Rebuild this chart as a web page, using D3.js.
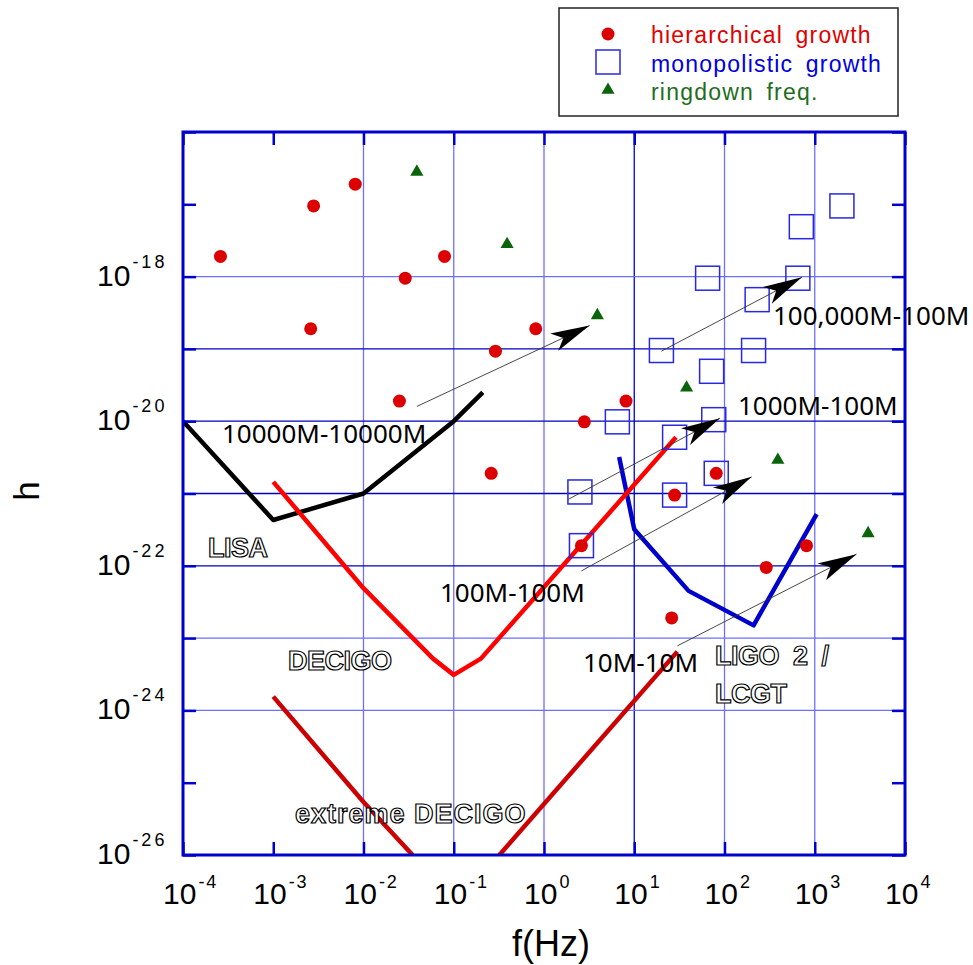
<!DOCTYPE html>
<html>
<head>
<meta charset="utf-8">
<script src="https://cdn.jsdelivr.net/npm/d3@7"></script>
<style>
body { margin: 0; background: #fff; }
text { font-family: "Liberation Sans", Arial, sans-serif; }
</style>
</head>
<body>
<script>
var width = 973, height = 965;
var mleft = 183, mright = 905, mtop = 132, mbottom = 855;

/* 数据 : [f(Hz), h] */
var hierarchical = [
  [2.6e-4, 1.9e-18], [2.8e-3, 9.5e-18], [8.1e-3, 1.9e-17], [7.9e-2, 1.9e-18],
  [2.9e-2, 9.5e-19], [2.6e-3, 1.9e-19], [0.29, 9.3e-20], [2.5e-2, 1.9e-20],
  [0.81, 1.9e-19], [8.1, 1.9e-20], [2.8, 9.8e-21], [0.26, 1.9e-21],
  [2.6, 1.9e-22], [28, 9.5e-22], [81, 1.9e-21], [26, 1.9e-23],
  [290, 9.5e-23], [810, 1.9e-22]
];
var monopolistic = [
  [2000, 9.5e-18], [710, 4.9e-18], [650, 9.5e-19], [65, 9.5e-19],
  [230, 4.8e-19], [20, 9.5e-20], [210, 9.5e-20], [72, 4.9e-20],
  [6.5, 9.8e-21], [76, 1.05e-20], [28, 6.0e-21], [2.5, 1.05e-21],
  [2.6, 1.9e-22], [28, 9.5e-22], [81, 1.9e-21]
];
var ringdown = [
  [0.039, 2.8e-17], [0.39, 2.8e-18], [3.9, 2.9e-19],
  [38, 2.9e-20], [390, 2.9e-21], [3900, 2.8e-22]
];

var lisa = [[1e-4, 1e-20], [1e-3, 4.3e-22], [1e-2, 1e-21], [0.1, 1e-20], [0.21, 2.5e-20]];
var decigo = [[1e-3, 1.45e-21], [1e-2, 4.9e-23], [0.059, 5.2e-24], [0.1, 3.1e-24], [0.2, 5.2e-24], [29, 6.0e-21]];
var extremeLeft = [[1e-3, 1.55e-24], [1e-2, 5.4e-26], [0.035, 1e-26]];
var extremeRight = [[0.32, 1e-26], [30, 6.5e-24]];
var ligo = [[6.8, 3.2e-21], [10, 3.2e-22], [40, 4.5e-23], [210, 1.5e-23], [1050, 5.2e-22]];

var arrows = [
  [[0.039, 1.6e-20], [3.2, 2.1e-19]],
  [[20, 9.3e-20], [720, 9.8e-19]],
  [[1.86, 8.3e-22], [89, 1.1e-20]],
  [[2.6, 8.5e-23], [200, 1.7e-21]],
  [[30, 7.8e-24], [2900, 1.45e-22]]
];

var xExp = [-4, -3, -2, -1, 0, 1, 2, 3, 4];
var yExp = [-26, -25, -24, -23, -22, -21, -20, -19, -18, -17, -16];
var yLabelExp = [-26, -24, -22, -20, -18];
var vGrid = [-2, -1, 0, 1, 2, 3];
var hGrid = [-24, -23, -22, -21, -20, -19, -18];

var x = d3.scaleLog().domain([1e-4, 1e4]).range([mleft, mright]);
var y = d3.scaleLog().domain([1e-26, 1e-16]).range([mbottom, mtop]);

var svg = d3.select("body").append("svg")
  .attr("width", width)
  .attr("height", height);

var defs = svg.append("defs");
defs.append("clipPath").attr("id", "plot")
  .append("rect")
  .attr("x", mleft).attr("y", mtop)
  .attr("width", mright - mleft).attr("height", mbottom - mtop);

defs.append("marker")
  .attr("id", "head")
  .attr("markerUnits", "userSpaceOnUse")
  .attr("viewBox", "-42 -12 45 24")
  .attr("markerWidth", 45)
  .attr("markerHeight", 24)
  .attr("refX", 0)
  .attr("refY", 0)
  .attr("orient", "auto")
  .append("path")
  .attr("d", "M0,0 L-39,-9.5 L-29,0 L-39,9.5 Z")
  .attr("fill", "#000");

/* 网格 */
var grid = svg.append("g");
grid.selectAll(".vg").data(vGrid).enter().append("line")
  .attr("x1", d => x(Math.pow(10, d)))
  .attr("x2", d => x(Math.pow(10, d)))
  .attr("y1", mtop).attr("y2", mbottom)
  .attr("stroke", d => d === 1 ? "#0000cc" : "#6f6fff")
  .attr("stroke-width", 1.3);
grid.selectAll(".hg").data(hGrid).enter().append("line")
  .attr("y1", d => y(Math.pow(10, d)))
  .attr("y2", d => y(Math.pow(10, d)))
  .attr("x1", mleft).attr("x2", mright)
  .attr("stroke", d => (d >= -22 && d <= -19) ? "#0000bb" : "#6f6fff")
  .attr("stroke-width", 1.3);

/* 曲线 */
var line = d3.line().x(d => x(d[0])).y(d => y(d[1]));
var curves = svg.append("g").attr("clip-path", "url(#plot)");
[[ligo, "#0000cc"], [lisa, "#000000"], [decigo, "#ff0000"],
 [extremeLeft, "#cc0000"], [extremeRight, "#cc0000"]].forEach(function (c) {
  curves.append("path")
    .attr("d", line(c[0]))
    .attr("fill", "none")
    .attr("stroke", c[1])
    .attr("stroke-width", 4.5)
    .attr("stroke-linejoin", "round");
});

/* 点 */
svg.append("g").selectAll("rect").data(monopolistic).enter().append("rect")
  .attr("x", d => x(d[0]) - 12)
  .attr("y", d => y(d[1]) - 12)
  .attr("width", 24).attr("height", 24)
  .attr("fill", "none")
  .attr("stroke", "#2828e0")
  .attr("stroke-width", 1.5);

svg.append("g").selectAll("circle").data(hierarchical).enter().append("circle")
  .attr("cx", d => x(d[0]))
  .attr("cy", d => y(d[1]))
  .attr("r", 6.5)
  .attr("fill", "#dd0000");

var tri = d3.symbol().type(d3.symbolTriangle).size(75);
svg.append("g").selectAll("path").data(ringdown).enter().append("path")
  .attr("transform", d => "translate(" + x(d[0]) + "," + y(d[1]) + ")")
  .attr("d", tri)
  .attr("fill", "#0a640a");

/* 箭头 */
svg.append("g").selectAll("line").data(arrows).enter().append("line")
  .attr("x1", d => x(d[0][0])).attr("y1", d => y(d[0][1]))
  .attr("x2", d => x(d[1][0])).attr("y2", d => y(d[1][1]))
  .attr("stroke", "#333")
  .attr("stroke-width", 0.9)
  .attr("marker-end", "url(#head)");

/* 注释 */
var notes = [
  ["10000M-10000M", 222, 443],
  ["100,000M-100M", 773, 325],
  ["1000M-100M", 738, 415],
  ["100M-100M", 440, 602],
  ["10M-10M", 583, 672]
];
svg.append("g").selectAll("text").data(notes).enter().append("text")
  .attr("x", d => d[1]).attr("y", d => d[2])
  .style("font-family", "'Noto Sans', sans-serif")
  .style("font-size", "26px")
  .attr("fill", "#000")
  .text(d => d[0]);

var outlined = [
  ["LISA", 208, 557, -0.5],
  ["DECIGO", 288, 670, -0.5],
  ["extreme DECIGO", 295, 823, 1],
  ["LIGO  2  /", 715, 665, -0.5],
  ["LCGT", 715, 703, -0.5]
];
svg.append("g").selectAll("text").data(outlined).enter().append("text")
  .attr("x", d => d[1]).attr("y", d => d[2])
  .style("font-size", "27px")
  .style("font-weight", "bold")
  .style("letter-spacing", d => d[3] + "px")
  .style("white-space", "pre")
  .attr("fill", "#fff")
  .attr("stroke", "#000")
  .attr("stroke-width", 1.2)
  .text(d => d[0]);

/* 坐标轴 */
function styleAxis(g) {
  g.select(".domain").remove();
  g.selectAll(".tick line").attr("stroke", "#0000cc").attr("stroke-width", 2.5);
}
var xTickVals = xExp.map(e => Math.pow(10, e));
var yTickVals = yExp.map(e => Math.pow(10, e));
svg.append("g").attr("transform", "translate(0," + mbottom + ")")
  .call(d3.axisBottom(x).tickValues(xTickVals).tickSize(-13).tickFormat(""))
  .call(styleAxis);
svg.append("g").attr("transform", "translate(0," + mtop + ")")
  .call(d3.axisTop(x).tickValues(xTickVals).tickSize(-13).tickFormat(""))
  .call(styleAxis);
svg.append("g").attr("transform", "translate(" + mleft + ",0)")
  .call(d3.axisLeft(y).tickValues(yTickVals).tickSize(-13).tickFormat(""))
  .call(styleAxis);
svg.append("g").attr("transform", "translate(" + mright + ",0)")
  .call(d3.axisRight(y).tickValues(yTickVals).tickSize(-13).tickFormat(""))
  .call(styleAxis);

svg.append("rect")
  .attr("x", mleft).attr("y", mtop)
  .attr("width", mright - mleft).attr("height", mbottom - mtop)
  .attr("fill", "none")
  .attr("stroke", "#0000cc")
  .attr("stroke-width", 3);

/* 刻度标签 */
var xl = svg.append("g").selectAll("text").data(xExp).enter().append("text")
  .attr("x", d => x(Math.pow(10, d)) - 20)
  .attr("y", 904)
  .attr("fill", "#000");
xl.append("tspan").style("font-size", "30px").text("10");
xl.append("tspan").style("font-size", "18px").style("letter-spacing", "2px")
  .attr("dx", 2).attr("dy", -16).text(d => d < 0 ? "-" + (-d) : d);

var yl = svg.append("g").selectAll("text").data(yLabelExp).enter().append("text")
  .attr("x", 97)
  .attr("y", d => y(Math.pow(10, d)) + 9)
  .attr("fill", "#000");
yl.append("tspan").style("font-size", "30px").text("10");
yl.append("tspan").style("font-size", "18px").style("letter-spacing", "3px")
  .attr("dx", 2).attr("dy", -18).text(d => "-" + (-d));

svg.append("text")
  .attr("x", 551).attr("y", 956)
  .attr("text-anchor", "middle")
  .style("font-size", "36px")
  .text("f(Hz)");

svg.append("text")
  .attr("transform", "translate(39,491) rotate(-90)")
  .attr("text-anchor", "middle")
  .style("font-size", "35px")
  .text("h");

/* 图例 */
var legend = svg.append("g");
legend.append("rect")
  .attr("x", 559).attr("y", 8).attr("width", 339).attr("height", 108)
  .attr("fill", "#fff").attr("stroke", "#222").attr("stroke-width", 1.5);
legend.append("circle").attr("cx", 608).attr("cy", 34).attr("r", 6.5).attr("fill", "#dd0000");
legend.append("rect").attr("x", 596).attr("y", 50).attr("width", 24).attr("height", 24)
  .attr("fill", "none").attr("stroke", "#2828e0").attr("stroke-width", 1.5);
legend.append("path").attr("transform", "translate(608,90)").attr("d", tri).attr("fill", "#0a640a");

var legendItems = [
  ["hierarchical growth", "#e00000", 43],
  ["monopolistic growth", "#0000e0", 72],
  ["ringdown freq.", "#1e6e1e", 100]
];
legend.selectAll(".lt").data(legendItems).enter().append("text")
  .attr("x", 651).attr("y", d => d[2])
  .attr("fill", d => d[1])
  .style("font-size", "23px")
  .style("letter-spacing", "1.2px")
  .style("word-spacing", "5px")
  .text(d => d[0]);
</script>
</body>
</html>
